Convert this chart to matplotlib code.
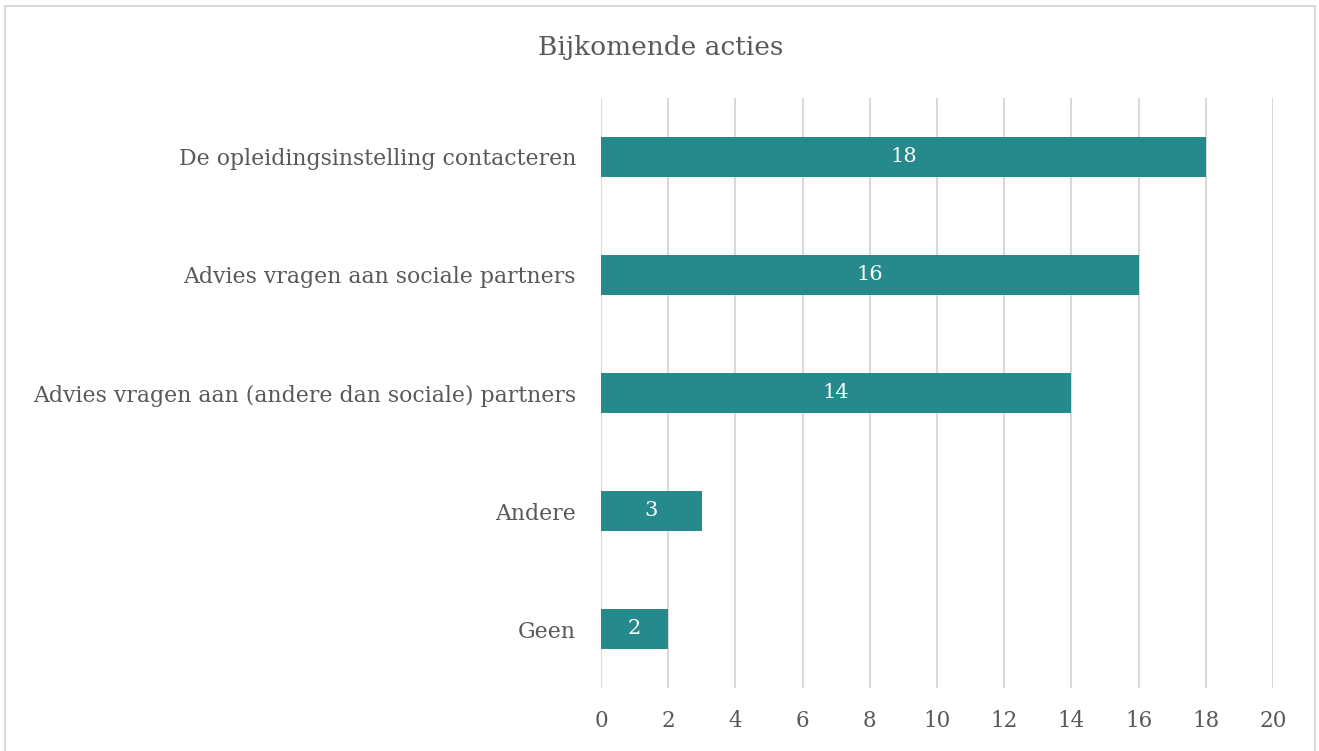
import matplotlib
matplotlib.use("Agg")
import matplotlib.pyplot as plt
from matplotlib.patches import Rectangle

categories = ["Geen", "Andere", "Advies vragen aan (andere dan sociale) partners",
              "Advies vragen aan sociale partners", "De opleidingsinstelling contacteren"]
values = [2, 3, 14, 16, 18]
xticks = [0, 2, 4, 6, 8, 10, 12, 14, 16, 18, 20]

bar_color = "#268A8C"
text_color = "#595959"
grid_color = "#D9D9D9"
plt.rcParams['font.family'] = ['DejaVu Serif']

W, H = 1319, 751
fig = plt.figure(figsize=(W / 100, H / 100), dpi=100)
ax = fig.add_axes([601 / W, 1 - 688 / H, (1273 - 601) / W, (688 - 98) / H])

ypos = list(range(len(categories)))
bars = ax.barh(ypos, values, height=0.34, color=bar_color, zorder=3)
for b, v in zip(bars, values):
    ax.text(v / 2, b.get_y() + b.get_height() / 2, str(v), ha="center", va="center",
            color="white", fontsize=15, zorder=4)

ax.set_xlim(0, 20)
ax.set_ylim(-0.5, len(categories) - 0.5)
ax.set_xticks(xticks)
ax.set_yticks(ypos)
ax.set_yticklabels(categories, fontsize=15.8)
ax.grid(axis="x", color=grid_color, linewidth=1.5, zorder=0)
for s in ax.spines.values():
    s.set_visible(False)
ax.tick_params(axis="both", length=0, colors=text_color)
ax.tick_params(axis="x", labelsize=15.5, pad=16)
ax.tick_params(axis="y", pad=18)

fig.text(661 / W, 1 - 47 / H, "Bijkomende acties", ha="center", va="center",
         fontsize=19, color=text_color)

fig.patches.append(Rectangle((5 / W, -0.02), 1310 / W, 1 - 6 / H + 0.02, transform=fig.transFigure,
                             fill=False, edgecolor="#D9D9D9", linewidth=1.5))

fig.savefig("out.png", dpi=100)
